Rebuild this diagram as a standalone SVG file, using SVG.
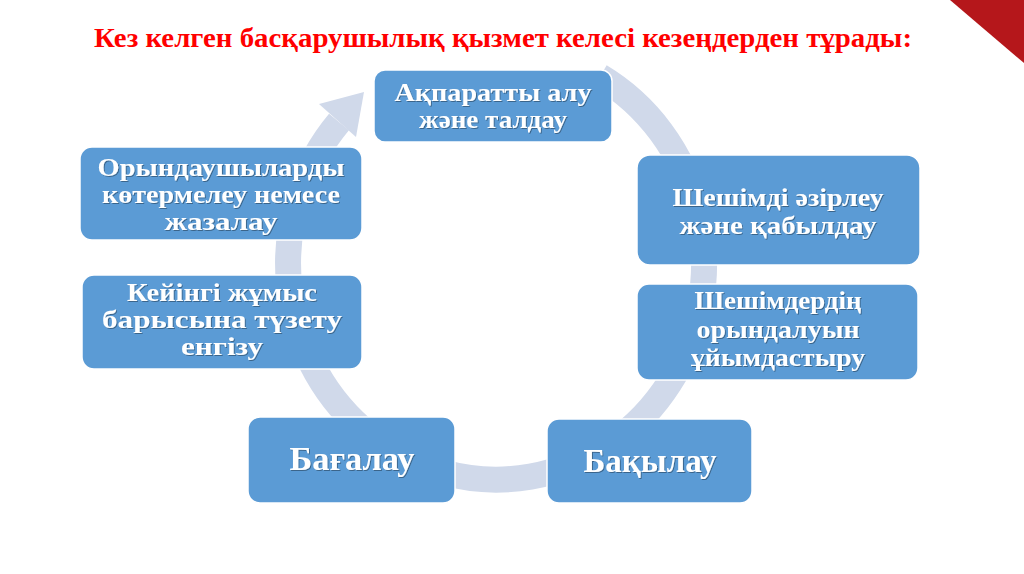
<svg xmlns="http://www.w3.org/2000/svg" width="1024" height="574" viewBox="0 0 1024 574">
<defs>
<style>
.box{fill:#5b9bd5;stroke:#ffffff;stroke-width:1.5}
.t{font-family:"Liberation Serif","Times New Roman",serif;font-weight:bold;fill:#ffffff;text-anchor:middle;font-size:26px;filter:url(#sh)}
.big{font-size:34px}
.ring{fill:none;stroke:#d0d9ea;stroke-width:26}
</style>
<filter id="sh" x="-10%" y="-20%" width="120%" height="140%">
<feDropShadow dx="1" dy="1" stdDeviation="0.6" flood-color="#000" flood-opacity="0.35"/>
</filter>
</defs>
<rect width="1024" height="574" fill="#ffffff"/>
<polygon points="950,0 1024,0 1024,63" fill="#b5171b"/>
<text x="503" y="47" font-family="Liberation Serif, serif" font-weight="bold" font-size="27" fill="#ff0000" text-anchor="middle" textLength="818" lengthAdjust="spacingAndGlyphs">Кез келген басқарушылық қызмет келесі кезеңдерден тұрады:</text>
<g id="connectors">
<path class="ring" d="M600,76.5 A208,216 0 1 1 339,122"/>
<polygon points="364,92 319,104 356,137" fill="#d0d9ea"/>
</g>
<g id="n1"><rect class="box" x="374" y="70" width="238" height="72" rx="11"/>
<text class="t" x="493" y="101" textLength="197" lengthAdjust="spacingAndGlyphs">Ақпаратты алу</text><text class="t" x="493" y="128" textLength="148" lengthAdjust="spacingAndGlyphs">және талдау</text></g>
<g id="n2"><rect class="box" x="637" y="155" width="283" height="110" rx="13"/>
<text class="t" x="778" y="206" textLength="211" lengthAdjust="spacingAndGlyphs">Шешімді әзірлеу</text><text class="t" x="778" y="234" textLength="197" lengthAdjust="spacingAndGlyphs">және қабылдау</text></g>
<g id="n3"><rect class="box" x="637" y="284" width="281" height="96" rx="12"/>
<text class="t" x="778" y="309" textLength="167" lengthAdjust="spacingAndGlyphs">Шешімдердің</text><text class="t" x="778" y="338" textLength="163" lengthAdjust="spacingAndGlyphs">орындалуын</text><text class="t" x="778" y="366" textLength="174" lengthAdjust="spacingAndGlyphs">ұйымдастыру</text></g>
<g id="n4"><rect class="box" x="547" y="419" width="205" height="84" rx="12"/>
<text class="t big" x="650" y="472" textLength="133" lengthAdjust="spacingAndGlyphs">Бақылау</text></g>
<g id="n5"><rect class="box" x="248" y="417" width="207" height="86" rx="12"/>
<text class="t big" x="352" y="470" textLength="125" lengthAdjust="spacingAndGlyphs">Бағалау</text></g>
<g id="n6"><rect class="box" x="82" y="275" width="280" height="94" rx="12"/>
<text class="t" x="222" y="301" textLength="190" lengthAdjust="spacingAndGlyphs">Кейінгі жұмыс</text><text class="t" x="222" y="328" textLength="240" lengthAdjust="spacingAndGlyphs">барысына түзету</text><text class="t" x="222" y="355" textLength="82" lengthAdjust="spacingAndGlyphs">енгізу</text></g>
<g id="n7"><rect class="box" x="80" y="147" width="282" height="93" rx="12"/>
<text class="t" x="221" y="176" textLength="247" lengthAdjust="spacingAndGlyphs">Орындаушыларды</text><text class="t" x="221" y="203" textLength="238" lengthAdjust="spacingAndGlyphs">көтермелеу немесе</text><text class="t" x="221" y="230" textLength="113" lengthAdjust="spacingAndGlyphs">жазалау</text></g>
</svg>
